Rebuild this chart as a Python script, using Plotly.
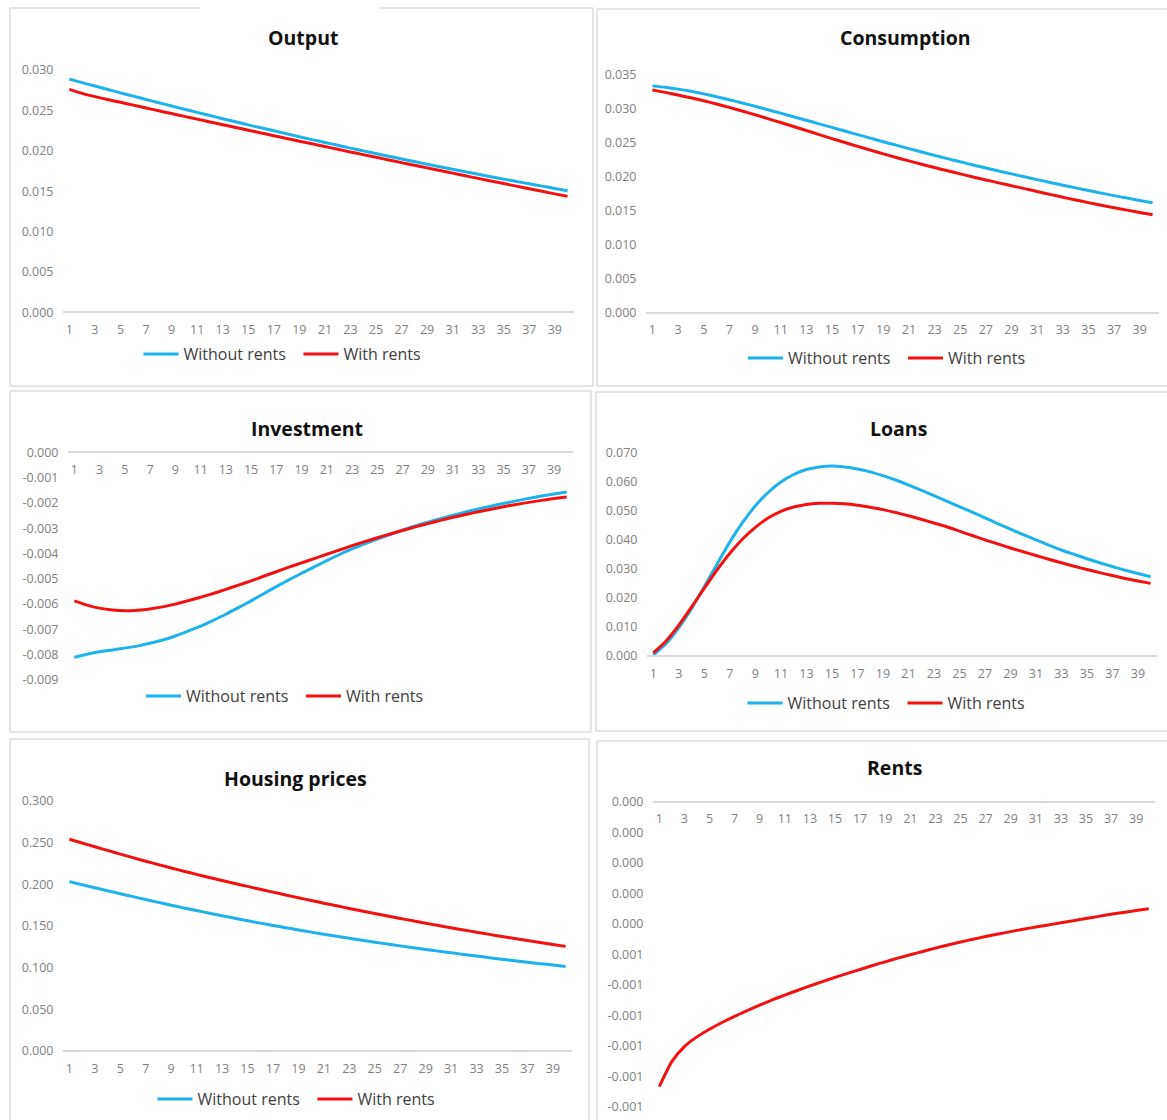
import plotly.graph_objects as go

W, H = 1167, 1120

periods = list(range(1, 41))
x_tick_labels = [str(i) for i in range(1, 40, 2)]

output_without = [0.02887, 0.02844, 0.02801, 0.02759, 0.02717, 0.02676, 0.02635, 0.02594, 0.02554, 0.02514,
                  0.02475, 0.02436, 0.02397, 0.02359, 0.02321, 0.02284, 0.02247, 0.02210, 0.02174, 0.02138,
                  0.02103, 0.02068, 0.02033, 0.01999, 0.01965, 0.01932, 0.01899, 0.01866, 0.01834, 0.01802,
                  0.01771, 0.01740, 0.01709, 0.01679, 0.01649, 0.01620, 0.01591, 0.01562, 0.01534, 0.01506]
output_with = [0.02760, 0.02710, 0.02670, 0.02634, 0.02600, 0.02565, 0.02530, 0.02495, 0.02461, 0.02426,
               0.02392, 0.02357, 0.02323, 0.02289, 0.02255, 0.02221, 0.02187, 0.02153, 0.02119, 0.02086,
               0.02052, 0.02019, 0.01985, 0.01952, 0.01919, 0.01886, 0.01853, 0.01820, 0.01788, 0.01755,
               0.01723, 0.01690, 0.01658, 0.01626, 0.01594, 0.01562, 0.01530, 0.01498, 0.01466, 0.01435]

consumption_without = [0.03340, 0.03318, 0.03292, 0.03260, 0.03222, 0.03180, 0.03135, 0.03088, 0.03039, 0.02989,
                       0.02938, 0.02886, 0.02834, 0.02781, 0.02728, 0.02675, 0.02622, 0.02570, 0.02518, 0.02467,
                       0.02416, 0.02366, 0.02317, 0.02269, 0.02222, 0.02176, 0.02131, 0.02087, 0.02044, 0.02001,
                       0.01959, 0.01918, 0.01878, 0.01838, 0.01799, 0.01761, 0.01724, 0.01688, 0.01653, 0.01619]
consumption_with = [0.03280, 0.03244, 0.03205, 0.03164, 0.03120, 0.03073, 0.03023, 0.02970, 0.02915, 0.02858,
                    0.02800, 0.02741, 0.02682, 0.02623, 0.02564, 0.02506, 0.02449, 0.02393, 0.02339, 0.02286,
                    0.02235, 0.02185, 0.02137, 0.02090, 0.02044, 0.01999, 0.01955, 0.01912, 0.01870, 0.01827,
                    0.01784, 0.01742, 0.01700, 0.01660, 0.01621, 0.01583, 0.01546, 0.01510, 0.01475, 0.01441]

investment_without = [-0.00810, -0.00798, -0.00788, -0.00781, -0.00774, -0.00766, -0.00755, -0.00742, -0.00726, -0.00707,
                      -0.00687, -0.00664, -0.00640, -0.00614, -0.00587, -0.00559, -0.00531, -0.00504, -0.00478, -0.00453,
                      -0.00428, -0.00404, -0.00382, -0.00362, -0.00343, -0.00325, -0.00307, -0.00291, -0.00276, -0.00262,
                      -0.00249, -0.00236, -0.00224, -0.00213, -0.00202, -0.00192, -0.00182, -0.00173, -0.00165, -0.00157]
investment_with = [-0.00587, -0.00604, -0.00616, -0.00623, -0.00626, -0.00624, -0.00619, -0.00611, -0.00600, -0.00587,
                   -0.00573, -0.00558, -0.00542, -0.00525, -0.00508, -0.00490, -0.00472, -0.00454, -0.00437, -0.00420,
                   -0.00403, -0.00386, -0.00369, -0.00353, -0.00338, -0.00323, -0.00309, -0.00295, -0.00282, -0.00269,
                   -0.00257, -0.00246, -0.00235, -0.00225, -0.00215, -0.00206, -0.00198, -0.00190, -0.00183, -0.00177]

loans_without = [0.0003, 0.0043, 0.0098, 0.0164, 0.0239, 0.0317, 0.0393, 0.0460, 0.0517, 0.0563,
                 0.0599, 0.0625, 0.0642, 0.0651, 0.0654, 0.0651, 0.0644, 0.0634, 0.0621, 0.0606,
                 0.0589, 0.0571, 0.0552, 0.0533, 0.0514, 0.0495, 0.0476, 0.0456, 0.0437, 0.0418,
                 0.0400, 0.0382, 0.0365, 0.0350, 0.0335, 0.0321, 0.0308, 0.0295, 0.0284, 0.0273]
loans_with = [0.0011, 0.0052, 0.0106, 0.0169, 0.0234, 0.0297, 0.0354, 0.0403, 0.0443, 0.0475,
              0.0498, 0.0513, 0.0522, 0.0526, 0.0526, 0.0524, 0.0519, 0.0512, 0.0504, 0.0494,
              0.0483, 0.0471, 0.0458, 0.0445, 0.0430, 0.0415, 0.0400, 0.0386, 0.0372, 0.0359,
              0.0346, 0.0333, 0.0321, 0.0309, 0.0298, 0.0287, 0.0277, 0.0267, 0.0258, 0.0250]

housing_without = [0.2030, 0.1993, 0.1957, 0.1921, 0.1885, 0.1850, 0.1815, 0.1781, 0.1748, 0.1715,
                   0.1683, 0.1652, 0.1621, 0.1591, 0.1562, 0.1533, 0.1505, 0.1478, 0.1451, 0.1425,
                   0.1400, 0.1375, 0.1351, 0.1327, 0.1304, 0.1282, 0.1260, 0.1238, 0.1217, 0.1197,
                   0.1177, 0.1157, 0.1138, 0.1119, 0.1100, 0.1082, 0.1064, 0.1047, 0.1030, 0.1013]
housing_with = [0.2538, 0.2493, 0.2448, 0.2404, 0.2360, 0.2317, 0.2275, 0.2234, 0.2194, 0.2155,
                0.2117, 0.2080, 0.2044, 0.2008, 0.1973, 0.1938, 0.1904, 0.1870, 0.1837, 0.1804,
                0.1772, 0.1740, 0.1709, 0.1678, 0.1648, 0.1618, 0.1589, 0.1560, 0.1532, 0.1504,
                0.1477, 0.1450, 0.1424, 0.1398, 0.1373, 0.1348, 0.1324, 0.1300, 0.1277, 0.1254]

rents_with = [-0.000934, -0.000852, -0.000803, -0.000771, -0.000746, -0.000724, -0.000704, -0.000685, -0.000667, -0.000650,
              -0.000634, -0.000619, -0.000604, -0.000590, -0.000576, -0.000563, -0.000550, -0.000537, -0.000525, -0.000513,
              -0.000502, -0.000491, -0.000480, -0.000470, -0.000460, -0.000451, -0.000442, -0.000434, -0.000426, -0.000418,
              -0.000411, -0.000404, -0.000397, -0.000390, -0.000383, -0.000376, -0.000369, -0.000363, -0.000357, -0.000351]

rents_tick_values = [0.0, -0.0001, -0.0002, -0.0003, -0.0004, -0.0005, -0.0006, -0.0007, -0.0008, -0.0009, -0.0010]
rents_tick_labels = ["0.000", "0.000", "0.000", "0.000", "0.000", "0.001",
                     "-0.001", "-0.001", "-0.001", "-0.001", "-0.001"]

titles = ["Output", "Consumption", "Investment", "Loans", "Housing prices", "Rents"]
series_names = ["Without rents", "With rents"]

BLUE = "#1cb2ee"
RED = "#f41010"
AXIS_GRAY = "#d9d9d9"
TICK_GRAY = "#7f7f7f"
FONT = "Open Sans"


def fx(px):
    return px / W


def fy(py):
    return 1 - py / H


def ticks_between(lo, hi, step):
    n = int(round((hi - lo) / step))
    return [round(lo + i * step, 6) for i in range(n + 1)]


# layout specs in pixels: plot x0/x1, y top/bottom, y range, tick step, axis line y,
# title centre, legend (left of first symbol, middle y), panel box
panels = [
    dict(x0=63, x1=574, yt=70, yb=312.3, yr=(0, 0.030), step=0.005, axis_y=312.3,
         title=(303, 38), legend=(143.5, 354), box=(10, 8, 593, 386),
         data=[output_without, output_with]),
    dict(x0=646, x1=1159, yt=75, yb=312.7, yr=(0, 0.035), step=0.005, axis_y=312.7,
         title=(905, 38), legend=(748, 358), box=(597, 9, 1170, 386),
         data=[consumption_without, consumption_with]),
    dict(x0=68, x1=573, yt=452.3, yb=680, yr=(-0.009, 0), step=0.001, axis_y=452.3,
         title=(307, 428), legend=(146, 696), box=(10, 391, 591, 732),
         data=[investment_without, investment_with]),
    dict(x0=647, x1=1157, yt=452.7, yb=656, yr=(0, 0.070), step=0.010, axis_y=656,
         title=(898, 428), legend=(747.5, 703), box=(596, 392, 1170, 731),
         data=[loans_without, loans_with]),
    dict(x0=63, x1=572, yt=800.7, yb=1051, yr=(0, 0.300), step=0.050, axis_y=1051,
         title=(295, 778), legend=(157.5, 1099), box=(10, 739, 589, 1125),
         data=[housing_without, housing_with]),
    dict(x0=653, x1=1155, yt=801.7, yb=1106.7, yr=(-0.0010, 0), step=None, axis_y=801.7,
         title=(894, 767), legend=None, box=(597, 741, 1170, 1125),
         data=[None, rents_with]),
]

fig = go.Figure()
layout = dict(width=W, height=H, margin=dict(l=0, r=0, t=0, b=0, pad=0, autoexpand=False),
              autosize=False, paper_bgcolor="white", plot_bgcolor="rgba(0,0,0,0)", showlegend=True)
annotations = []
shapes = []

for i, p in enumerate(panels):
    k = i + 1
    xa = "xaxis" if k == 1 else f"xaxis{k}"
    ya = "yaxis" if k == 1 else f"yaxis{k}"
    xref = "x" if k == 1 else f"x{k}"
    yref = "y" if k == 1 else f"y{k}"
    leg = "legend" if k == 1 else f"legend{k}"

    for s, (vals, color) in enumerate(zip(p["data"], [BLUE, RED])):
        if vals is None:
            continue
        fig.add_trace(go.Scatter(
            x=periods, y=vals, mode="lines", name=series_names[s],
            line=dict(color=color, width=3, shape="spline", smoothing=0.6),
            xaxis=xref, yaxis=yref, legend=leg, showlegend=p["legend"] is not None,
            hoverinfo="skip"))

    if p["step"] is None:
        yvals = rents_tick_values
        ytext = rents_tick_labels
    else:
        yvals = ticks_between(p["yr"][0], p["yr"][1], p["step"])
        ytext = [f"{v:.3f}" for v in yvals]

    layout[xa] = dict(domain=[fx(p["x0"]), fx(p["x1"])], range=[0.5, 40.5],
                      anchor="free", position=fy(p["axis_y"]), side="bottom",
                      tickvals=list(range(1, 40, 2)), ticktext=x_tick_labels,
                      showline=True, linecolor=AXIS_GRAY, linewidth=1.5,
                      ticks="outside", ticklen=6, tickcolor="rgba(0,0,0,0)",
                      showgrid=False, zeroline=False, automargin=False,
                      tickfont=dict(family=FONT, size=12.5, color=TICK_GRAY),
                      fixedrange=True)
    layout[ya] = dict(domain=[fy(p["yb"]), fy(p["yt"])], range=list(p["yr"]),
                      anchor=xref, tickvals=yvals, ticktext=ytext,
                      showline=False, showgrid=False, zeroline=False, automargin=False,
                      ticks="outside", ticklen=6, tickcolor="rgba(0,0,0,0)",
                      tickfont=dict(family=FONT, size=12.5, color=TICK_GRAY),
                      fixedrange=True)

    if p["legend"] is not None:
        layout[leg] = dict(orientation="h", x=fx(p["legend"][0] - 5), y=fy(p["legend"][1]),
                           xanchor="left", yanchor="middle", bgcolor="rgba(0,0,0,0)",
                           font=dict(family=FONT, size=16, color="#404040"),
                           itemwidth=35, entrywidth=110, tracegroupgap=0)

    annotations.append(dict(text=titles[i], x=fx(p["title"][0]), y=fy(p["title"][1]),
                            xref="paper", yref="paper", xanchor="center", yanchor="middle",
                            showarrow=False,
                            font=dict(family=FONT, size=19.5, color="#111111", weight="bold")))

    bx0, by0, bx1, by1 = p["box"]
    line = dict(color="#dcdcdc", width=1.5)
    tops = [(bx0, 200), (380, bx1)] if i == 0 else [(bx0, bx1)]
    for a, b in tops:
        shapes.append(dict(type="line", xref="paper", yref="paper",
                           x0=fx(a), x1=fx(b), y0=fy(by0), y1=fy(by0), line=line))
    shapes.append(dict(type="line", xref="paper", yref="paper",
                       x0=fx(bx0), x1=fx(bx1), y0=fy(by1), y1=fy(by1), line=line))
    shapes.append(dict(type="line", xref="paper", yref="paper",
                       x0=fx(bx0), x1=fx(bx0), y0=fy(by0), y1=fy(by1), line=line))
    shapes.append(dict(type="line", xref="paper", yref="paper",
                       x0=fx(bx1), x1=fx(bx1), y0=fy(by0), y1=fy(by1), line=line))

layout["annotations"] = annotations
layout["shapes"] = shapes
fig.update_layout(**layout)

page_fix = ("document.documentElement.style.margin='0';"
            "document.body.style.margin='0';document.body.style.padding='0';"
            "document.body.style.overflow='hidden';"
            "var gd=document.getElementById('{plot_id}');"
            "gd.style.position='fixed';gd.style.left='0px';gd.style.top='0px';")
fig.write_html("out.html", post_script=page_fix, config={"displayModeBar": False})
